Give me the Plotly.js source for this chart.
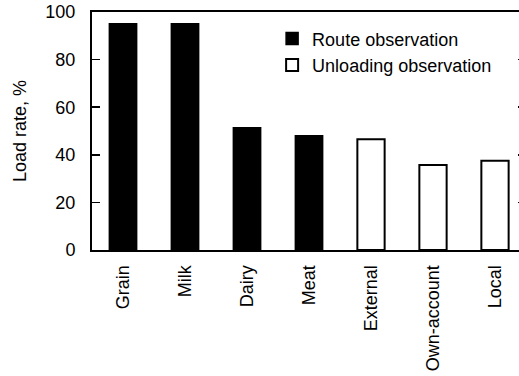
<!DOCTYPE html>
<html>
<head>
<meta charset="utf-8">
<script src="https://cdn.plot.ly/plotly-3.0.1.min.js"></script>
<style>
html,body{margin:0;padding:0;overflow:hidden;background:#fff;}
#chart{width:530px;height:376px;}
</style>
</head>
<body>
<div id="chart"></div>
<script>
const routeCategories = ["Grain", "Milk", "Dairy", "Meat"];
const routeValues = [95.1, 95.1, 51.4, 48.0];
const unloadCategories = ["External", "Own-account", "Local"];
const unloadValues = [46.5, 35.7, 37.5];
const allCategories = routeCategories.concat(unloadCategories);
const yTicks = [0, 20, 40, 60, 80, 100];

const font = {family: "Arial, 'Liberation Sans', sans-serif", size: 18, color: "#000"};

const traces = [
  {
    type: "bar", name: "Route observation",
    x: routeCategories, y: routeValues, width: 0.44,
    marker: {color: "#000", line: {color: "#000", width: 1.5}}
  },
  {
    type: "bar", name: "Unloading observation",
    x: unloadCategories, y: unloadValues, width: 0.44,
    marker: {color: "#fff", line: {color: "#000", width: 2}}
  }
];

const layout = {
  width: 530, height: 376,
  margin: {l: 92, r: 4, t: 12, b: 126, pad: 0},
  paper_bgcolor: "#fff", plot_bgcolor: "#fff",
  font: font,
  barmode: "overlay",
  showlegend: true,
  legend: {
    x: 0.415, y: 0.965, xanchor: "left", yanchor: "top",
    bgcolor: "rgba(0,0,0,0)", font: font, tracegroupgap: 0,
    itemwidth: 30
  },
  xaxis: {
    type: "category", categoryorder: "array", categoryarray: allCategories,
    range: [-0.5, 6.5], tickangle: -90, ticks: "", ticklabelstandoff: 6,
    showline: true, linecolor: "#000", linewidth: 2, mirror: true,
    showgrid: false, zeroline: false, tickfont: font, automargin: false
  },
  yaxis: {
    range: [0, 100], tickvals: yTicks, ticktext: yTicks.map(String),
    ticks: "inside", ticklen: 8, tickwidth: 1.5, tickcolor: "#000",
    ticklabelstandoff: 11,
    showline: true, linecolor: "#000", linewidth: 2, mirror: "ticks",
    showgrid: false, zeroline: false, tickfont: font, automargin: false,
    title: {text: "Load rate, %", font: font, standoff: 14}
  }
};

Plotly.newPlot("chart", traces, layout, {displayModeBar: false, staticPlot: true});
</script>
</body>
</html>
